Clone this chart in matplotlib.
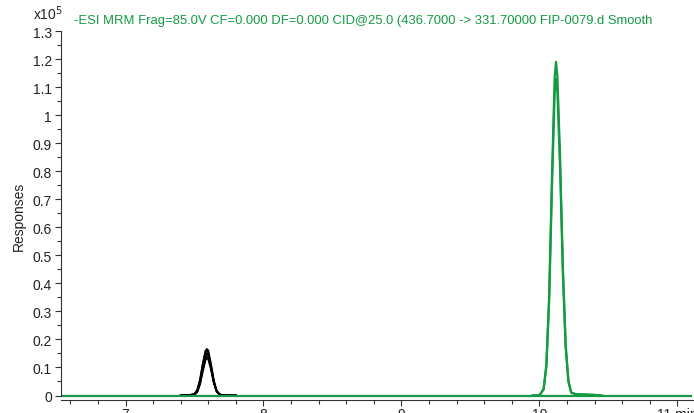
import matplotlib
matplotlib.use('Agg')
import matplotlib.pyplot as plt
from matplotlib.ticker import MultipleLocator, FuncFormatter

plt.rcParams['font.family'] = ['Liberation Sans', 'DejaVu Sans']

# retention time grid across the run (min) and flat baseline
base_t = [6.53, 7.30, 8.50, 9.50, 9.90, 10.60, 11.10]
base_r = [0.0, 0.0, 0.0, 0.0, 0.0, 0.0, 0.0]

# black traces, peak near 7.59 min (x10^5 counts)
black_t = [7.40, 7.46, 7.50, 7.52, 7.54, 7.56, 7.58, 7.59, 7.60, 7.62,
           7.64, 7.66, 7.68, 7.70, 7.74, 7.80]
black_1 = [0.0, 0.001, 0.005, 0.018, 0.054, 0.112, 0.160, 0.166, 0.160, 0.112,
           0.054, 0.018, 0.005, 0.001, 0.0, 0.0]
black_2 = [0.0, 0.001, 0.006, 0.020, 0.057, 0.113, 0.157, 0.158, 0.148, 0.100,
           0.046, 0.015, 0.004, 0.001, 0.0, 0.0]
black_3 = [0.0, 0.001, 0.004, 0.015, 0.047, 0.100, 0.145, 0.150, 0.145, 0.102,
           0.050, 0.017, 0.005, 0.001, 0.0, 0.0]
black_4 = [0.0, 0.001, 0.004, 0.014, 0.044, 0.093, 0.135, 0.141, 0.137, 0.097,
           0.048, 0.016, 0.004, 0.001, 0.0, 0.0]
black_5 = [0.0, 0.0, 0.003, 0.012, 0.040, 0.086, 0.127, 0.133, 0.129, 0.092,
           0.045, 0.015, 0.004, 0.001, 0.0, 0.0]

# green traces, peak near 10.12 min
green_t = [9.95, 10.00, 10.03, 10.05, 10.07, 10.09, 10.11, 10.12, 10.13, 10.15,
           10.17, 10.19, 10.21, 10.23, 10.26, 10.30, 10.40, 10.45]
green_1 = [0.0, 0.001, 0.023, 0.109, 0.351, 0.767, 1.133, 1.190, 1.140, 0.841,
           0.453, 0.180, 0.052, 0.011, 0.005, 0.004, 0.002, 0.0]
green_2 = [0.0, 0.001, 0.022, 0.104, 0.334, 0.730, 1.078, 1.130, 1.083, 0.800,
           0.431, 0.171, 0.050, 0.010, 0.005, 0.004, 0.002, 0.0]

title = '-ESI MRM Frag=85.0V CF=0.000 DF=0.000 CID@25.0 (436.7000 -> 331.70000 FIP-0079.d Smooth'
green = '#139a43'

fig = plt.figure(figsize=(6.94, 4.14), dpi=100)
ax = fig.add_axes([0.0886, 0.0314, 0.9114, 0.8913])

for r in [black_1, black_2, black_3, black_4, black_5]:
    ax.plot(black_t, r, color='black', lw=1.3)
ax.plot(base_t, base_r, color='black', lw=1.3)
ax.plot(base_t, base_r, color=green, lw=1.6)
ax.plot(green_t, green_1, color=green, lw=1.6)
ax.plot(green_t, green_2, color=green, lw=1.6)

ax.set_xlim(6.536, 11.12)
ax.set_ylim(-0.016, 1.3)

for s in ['top', 'right']:
    ax.spines[s].set_visible(False)
for s in ['left', 'bottom']:
    ax.spines[s].set_linewidth(0.8)
    ax.spines[s].set_color('#333333')
ax.spines['left'].set_bounds(0, 1.3)

ax.xaxis.set_major_locator(MultipleLocator(1))
ax.xaxis.set_minor_locator(MultipleLocator(0.2))
ax.yaxis.set_major_locator(MultipleLocator(0.1))
ax.yaxis.set_minor_locator(MultipleLocator(0.05))
ax.xaxis.set_major_formatter(FuncFormatter(lambda v, p: '11 min' if round(v) == 11 else f'{v:g}'))
ax.yaxis.set_major_formatter(FuncFormatter(lambda v, p: f'{round(v, 1):g}'))
ax.tick_params(which='both', direction='out', color='#333333', width=0.8, labelsize=10,
               labelcolor='#222222')
ax.tick_params(which='major', length=4)
ax.tick_params(which='minor', length=3)
ax.tick_params(axis='x', pad=1)
ax.tick_params(axis='y', pad=3)

ax.set_ylabel('Responses', fontsize=10, color='#222222', labelpad=5)
fig.text(33 / 694, 1 - 20 / 414, r'x10$^5$', fontsize=10, color='#222222', va='baseline')
fig.text(74 / 694, 1 - 24 / 414, title, fontsize=9.4, color=green, va='baseline')

fig.savefig('out.png', dpi=100)
